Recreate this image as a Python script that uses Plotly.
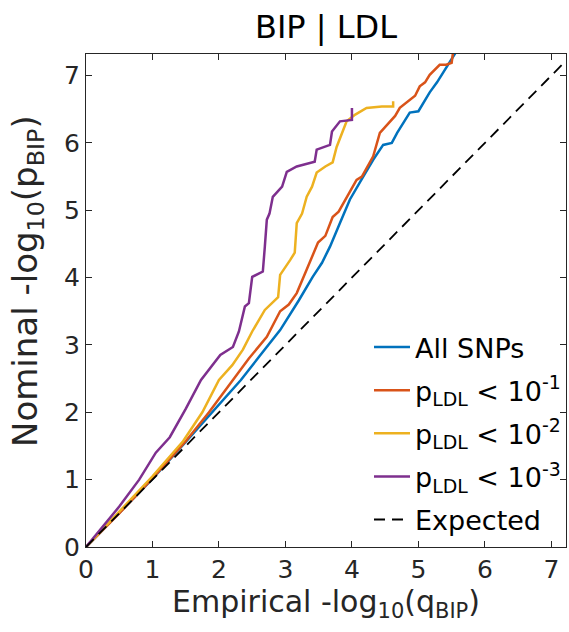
import plotly.graph_objects as go

# ---- data ----
all_x = [0, 0.5, 1.0, 1.5, 1.9, 2.1, 2.33, 2.6, 2.92, 3.2, 3.41, 3.55, 3.67, 3.82, 3.97, 4.17,
         4.32, 4.47, 4.6, 4.68, 4.78, 4.87, 5.0, 5.08, 5.17, 5.28, 5.4, 5.47, 5.52, 5.56]
all_y = [0, 0.5, 1.01, 1.56, 2.0, 2.22, 2.48, 2.82, 3.22, 3.66, 4.01, 4.22, 4.46, 4.81, 5.16, 5.5,
         5.75, 5.97, 6.0, 6.15, 6.3, 6.45, 6.47, 6.6, 6.75, 6.9, 7.09, 7.19, 7.28, 7.34]

p1_x = [0, 0.5, 1.0, 1.5, 1.85, 2.21, 2.45, 2.72, 2.92, 3.05, 3.17, 3.32, 3.49, 3.6, 3.71, 3.8,
        3.9, 4.07, 4.15, 4.27, 4.32, 4.42, 4.55, 4.65, 4.72, 4.87, 4.95, 5.02, 5.1, 5.17, 5.32,
        5.42, 5.5, 5.52]
p1_y = [0, 0.5, 1.02, 1.57, 2.0, 2.48, 2.8, 3.12, 3.5, 3.6, 3.77, 4.12, 4.52, 4.62, 4.9, 4.98,
        5.16, 5.45, 5.5, 5.71, 5.8, 6.15, 6.3, 6.4, 6.52, 6.64, 6.7, 6.84, 6.9, 7.01, 7.16,
        7.16, 7.19, 7.34]

p2_x = [0, 0.5, 1.0, 1.46, 1.75, 2.0, 2.2, 2.36, 2.5, 2.69, 2.89, 2.92, 3.0, 3.07, 3.14, 3.17,
        3.25, 3.32, 3.4, 3.47, 3.6, 3.71, 3.77, 3.86, 3.92, 4.05, 4.22, 4.45, 4.62, 4.62]
p2_y = [0, 0.52, 1.05, 1.57, 2.0, 2.48, 2.7, 2.93, 3.2, 3.52, 3.71, 4.04, 4.15, 4.26, 4.37, 4.81,
        4.95, 5.2, 5.35, 5.56, 5.65, 5.71, 5.94, 6.17, 6.32, 6.42, 6.52, 6.54, 6.54, 6.62]

p3_x = [0, 0.25, 0.5, 0.8, 1.05, 1.26, 1.5, 1.73, 1.9, 2.02, 2.21, 2.3, 2.39, 2.45, 2.5, 2.58,
        2.66, 2.69, 2.72, 2.76, 2.81, 2.95, 3.02, 3.17, 3.3, 3.44, 3.47, 3.67, 3.7, 3.76, 3.82,
        4.0, 4.0]
p3_y = [0, 0.3, 0.6, 1.0, 1.4, 1.63, 2.05, 2.48, 2.7, 2.85, 2.97, 3.2, 3.57, 3.62, 4.01, 4.05,
        4.09, 4.46, 4.86, 4.95, 5.2, 5.35, 5.57, 5.65, 5.68, 5.72, 5.9, 5.97, 6.17, 6.25, 6.32,
        6.34, 6.52]

exp_x = [0, 7.22]
exp_y = [0, 7.22]

ticks = [0, 1, 2, 3, 4, 5, 6, 7]

names = ["All SNPs",
         "p<sub>LDL</sub> &lt; 10<sup>-1</sup>",
         "p<sub>LDL</sub> &lt; 10<sup>-2</sup>",
         "p<sub>LDL</sub> &lt; 10<sup>-3</sup>",
         "Expected"]
colors = ["#0072BD", "#D95319", "#EDB120", "#7E2F8E", "#000000"]

FONT = "DejaVu Sans"
TXT = "#262626"

fig = go.Figure()
series = [(all_x, all_y), (p1_x, p1_y), (p2_x, p2_y), (p3_x, p3_y)]
for i, ((sx, sy), nm, c) in enumerate(zip(series, names[:4], colors[:4])):
    fig.add_trace(go.Scatter(x=sx, y=sy, mode="lines", name=nm, legendgroup=f"g{i}",
                             line=dict(color=c, width=2.5)))
fig.add_trace(go.Scatter(x=exp_x, y=exp_y, mode="lines", name=names[4], legendgroup="g4",
                         line=dict(color=colors[4], width=1.8, dash="11px,7px")))

axis_common = dict(
    showline=True, linecolor=TXT, linewidth=1, mirror="ticks",
    ticks="inside", ticklen=6, tickcolor=TXT, tickwidth=1,
    showgrid=False, zeroline=False,
    tickvals=ticks, ticktext=[str(t) for t in ticks],
    tickfont=dict(family=FONT, size=25, color=TXT),
)

fig.update_xaxes(range=[0, 7.22], title=dict(text="Empirical -log<sub>10</sub>(q<sub>BIP</sub>)",
                 font=dict(family=FONT, size=30, color=TXT), standoff=2), **axis_common)
fig.update_yaxes(range=[0, 7.32], **axis_common)

# y-axis title placed as in the reference (slightly above the axis middle)
fig.add_annotation(text="Nominal -log<sub>10</sub>(p<sub>BIP</sub>)", textangle=-90,
                   xref="paper", yref="paper",
                   x=(27 - 86) / 480, y=(547 - 281) / 493,
                   xanchor="center", yanchor="middle", showarrow=False,
                   font=dict(family=FONT, size=34, color=TXT))

fig.update_layout(
    width=569, height=632,
    margin=dict(l=86, r=3, t=54, b=85),
    paper_bgcolor="white", plot_bgcolor="white",
    font=dict(family=FONT, color=TXT),
    title=dict(text="BIP | LDL", font=dict(family=FONT, size=32, color="#000000"),
               x=0.5 * (86 + 566) / 569, xanchor="center",
               y=1 - 27 / 632, yanchor="middle", yref="container"),
    showlegend=True,
    legend=dict(x=1.0, xanchor="right", y=0.006, yanchor="bottom",
                bgcolor="rgba(0,0,0,0)", borderwidth=0,
                font=dict(family=FONT, size=27, color="#000000"),
                itemwidth=36, traceorder="grouped", tracegroupgap=5),
)

fig.write_html("out.html")
